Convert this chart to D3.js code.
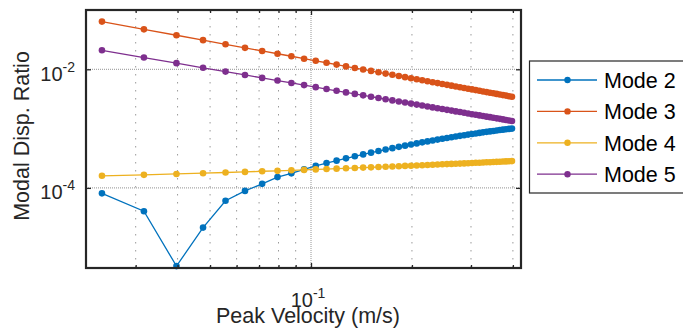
<!DOCTYPE html>
<html><head><meta charset="utf-8">
<script src="https://cdn.jsdelivr.net/npm/d3@7"></script>
<style>
html,body{margin:0;padding:0;background:#fff;}
svg{display:block;font-family:"Liberation Sans",Arial,Helvetica,sans-serif;}
</style></head>
<body>
<svg id="chart" width="683" height="329"></svg>
<script>
const peakVelocity = [0.0238, 0.03175, 0.0397, 0.04765, 0.0556, 0.06355, 0.0715, 0.07945, 0.0874, 0.09535, 0.1033, 0.11125, 0.1192, 0.12715, 0.1351, 0.14305, 0.151, 0.15895, 0.1669, 0.17485, 0.1828, 0.19075, 0.1987, 0.20665, 0.2146, 0.22255, 0.2305, 0.23845, 0.2464, 0.25435, 0.2623, 0.27025, 0.2782, 0.28615, 0.2941, 0.30205, 0.31, 0.31795, 0.3259, 0.33385, 0.3418, 0.34975, 0.3577, 0.36565, 0.3736, 0.38155, 0.3895, 0.39745];
const mode2 = [8.1e-5, 4.04e-5, 4.8e-6, 2.14e-5, 6.08e-5, 8.9e-5, 1.17e-4, 1.52e-4, 1.76e-4, 2.06e-4, 2.35e-4, 2.62e-4, 2.88e-4, 3.15e-4, 3.41e-4, 3.67e-4, 3.93e-4, 4.18e-4, 4.43e-4, 4.68e-4, 4.92e-4, 5.16e-4, 5.40e-4, 5.63e-4, 5.86e-4, 6.09e-4, 6.31e-4, 6.52e-4, 6.74e-4, 6.94e-4, 7.15e-4, 7.35e-4, 7.54e-4, 7.74e-4, 7.92e-4, 8.11e-4, 8.29e-4, 8.47e-4, 8.64e-4, 8.81e-4, 8.97e-4, 9.13e-4, 9.29e-4, 9.45e-4, 9.60e-4, 9.75e-4, 9.89e-4, 1.00e-3];
const mode3 = [0.0637, 0.0472, 0.0375, 0.0310, 0.0264, 0.0230, 0.0204, 0.0183, 0.0166, 0.0151, 0.0139, 0.0129, 0.0120, 0.0112, 0.0105, 0.00993, 0.00939, 0.00891, 0.00847, 0.00807, 0.00770, 0.00737, 0.00707, 0.00679, 0.00653, 0.00629, 0.00606, 0.00585, 0.00566, 0.00547, 0.00530, 0.00514, 0.00499, 0.00484, 0.00471, 0.00458, 0.00446, 0.00434, 0.00423, 0.00413, 0.00403, 0.00394, 0.00385, 0.00376, 0.00367, 0.00360, 0.00352, 0.00345];
const mode4 = [1.60e-4, 1.66e-4, 1.72e-4, 1.77e-4, 1.82e-4, 1.86e-4, 1.91e-4, 1.94e-4, 1.98e-4, 2.01e-4, 2.05e-4, 2.08e-4, 2.11e-4, 2.14e-4, 2.17e-4, 2.20e-4, 2.22e-4, 2.25e-4, 2.27e-4, 2.30e-4, 2.32e-4, 2.35e-4, 2.37e-4, 2.39e-4, 2.41e-4, 2.43e-4, 2.46e-4, 2.48e-4, 2.50e-4, 2.52e-4, 2.54e-4, 2.55e-4, 2.57e-4, 2.59e-4, 2.61e-4, 2.63e-4, 2.65e-4, 2.66e-4, 2.68e-4, 2.70e-4, 2.71e-4, 2.73e-4, 2.75e-4, 2.76e-4, 2.78e-4, 2.80e-4, 2.81e-4, 2.83e-4];
const mode5 = [0.0209, 0.0158, 0.0127, 0.0106, 0.00915, 0.00803, 0.00716, 0.00646, 0.00589, 0.00541, 0.00500, 0.00465, 0.00434, 0.00408, 0.00385, 0.00364, 0.00345, 0.00328, 0.00313, 0.00299, 0.00286, 0.00275, 0.00264, 0.00254, 0.00245, 0.00236, 0.00228, 0.00221, 0.00214, 0.00207, 0.00201, 0.00195, 0.00190, 0.00185, 0.00180, 0.00175, 0.00171, 0.00167, 0.00163, 0.00159, 0.00156, 0.00152, 0.00149, 0.00146, 0.00143, 0.00140, 0.00137, 0.00134];
const seriesNames = ["Mode 2", "Mode 3", "Mode 4", "Mode 5"];
const seriesColors = ["#0072BD", "#D95319", "#EDB120", "#7E2F8E"];
const xMajorTicks = [0.1];
const xTickBase = ["10"];
const xTickExp = ["-1"];
const xMinorTicks = [0.03, 0.04, 0.05, 0.06, 0.07, 0.08, 0.09, 0.2, 0.3, 0.4];
const yMajorTicks = [1e-4, 1e-2];
const yTickBase = ["10", "10"];
const yTickExp = ["-4", "-2"];
const xDomain = [0.02133, 0.4229];
const yDomain = [4.46e-6, 0.1];
const xLabel = "Peak Velocity (m/s)";
const yLabel = "Modal Disp. Ratio";

const seriesValues = [mode2, mode3, mode4, mode5];
const L = 86, R = 521, T = 10, B = 268;
const svg = d3.select("#chart");
const x = d3.scaleLog().domain(xDomain).range([L, R]);
const y = d3.scaleLog().domain(yDomain).range([B, T]);
const axisColor = "#262626";

// grid
const grid = svg.append("g");
grid.selectAll("line.xminor").data(xMinorTicks).enter().append("line")
  .attr("x1", d => x(d)).attr("x2", d => x(d)).attr("y1", T).attr("y2", B)
  .attr("stroke", "#9a9a9a").attr("stroke-width", 1).attr("stroke-dasharray", "1.5,6.5");
grid.selectAll("line.xmajor").data(xMajorTicks).enter().append("line")
  .attr("x1", d => x(d)).attr("x2", d => x(d)).attr("y1", T).attr("y2", B)
  .attr("stroke", "#a8a8a8").attr("stroke-width", 1.2).attr("stroke-dasharray", "1,1");
grid.selectAll("line.ymajor").data(yMajorTicks).enter().append("line")
  .attr("x1", L).attr("x2", R).attr("y1", d => y(d)).attr("y2", d => y(d))
  .attr("stroke", "#a8a8a8").attr("stroke-width", 1.2).attr("stroke-dasharray", "1,1");

// series
const line = d3.line().x(d => x(d[0])).y(d => y(d[1]));
seriesValues.forEach((vals, i) => {
  const pts = peakVelocity.map((v, j) => [v, vals[j]]);
  const g = svg.append("g");
  g.append("path").attr("d", line(pts)).attr("fill", "none")
    .attr("stroke", seriesColors[i]).attr("stroke-width", 1.3);
  g.selectAll("circle").data(pts).enter().append("circle")
    .attr("cx", d => x(d[0])).attr("cy", d => y(d[1])).attr("r", 3.3)
    .attr("fill", seriesColors[i]);
});

// axes (ticks pointing inward)
const tickStyle = sel => { sel.select(".domain").remove(); sel.selectAll("line").attr("stroke", axisColor).attr("stroke-width", 1.3); sel.selectAll("text").remove(); };
svg.append("g").attr("transform", `translate(0,${B})`)
  .call(d3.axisBottom(x).tickValues(xMajorTicks).tickSize(-5).tickFormat("")).call(tickStyle);
svg.append("g").attr("transform", `translate(0,${B})`)
  .call(d3.axisBottom(x).tickValues(xMinorTicks).tickSize(-3).tickFormat("")).call(tickStyle);
svg.append("g").attr("transform", `translate(0,${T})`)
  .call(d3.axisTop(x).tickValues(xMajorTicks).tickSize(-5).tickFormat("")).call(tickStyle);
svg.append("g").attr("transform", `translate(0,${T})`)
  .call(d3.axisTop(x).tickValues(xMinorTicks).tickSize(-3).tickFormat("")).call(tickStyle);
svg.append("g").attr("transform", `translate(${L},0)`)
  .call(d3.axisLeft(y).tickValues(yMajorTicks).tickSize(-5).tickFormat("")).call(tickStyle);
svg.append("g").attr("transform", `translate(${R},0)`)
  .call(d3.axisRight(y).tickValues(yMajorTicks).tickSize(-5).tickFormat("")).call(tickStyle);

// box
svg.append("rect").attr("x", L).attr("y", T).attr("width", R - L).attr("height", B - T)
  .attr("fill", "none").attr("stroke", axisColor).attr("stroke-width", 2.2);

// tick labels
xMajorTicks.forEach((t, i) => {
  const tx = svg.append("text").attr("x", x(t) - 3).attr("y", 307).attr("text-anchor", "middle")
    .attr("fill", axisColor).attr("font-size", 20);
  tx.append("tspan").text(xTickBase[i]);
  tx.append("tspan").attr("dy", -9).attr("font-size", 14).text(xTickExp[i]);
});
yMajorTicks.forEach((t, i) => {
  const tx = svg.append("text").attr("x", 75).attr("y", y(t) + 11.5).attr("text-anchor", "end")
    .attr("fill", axisColor).attr("font-size", 20);
  tx.append("tspan").text(yTickBase[i]);
  tx.append("tspan").attr("dy", -9).attr("font-size", 14).text(yTickExp[i]);
});

// axis labels
svg.append("text").attr("x", 308).attr("y", 323).attr("text-anchor", "middle")
  .attr("fill", axisColor).attr("font-size", 21.5).text(xLabel);
svg.append("text").attr("transform", "translate(29,136) rotate(-90)").attr("text-anchor", "middle")
  .attr("fill", axisColor).attr("font-size", 21.5).text(yLabel);

// legend
const lg = svg.append("g");
lg.append("rect").attr("x", 529.5).attr("y", 61).attr("width", 160).attr("height", 132)
  .attr("fill", "#fff").attr("stroke", axisColor).attr("stroke-width", 1.2);
seriesNames.forEach((name, i) => {
  const cy = 80 + i * 31.4;
  lg.append("line").attr("x1", 537).attr("x2", 597).attr("y1", cy).attr("y2", cy)
    .attr("stroke", seriesColors[i]).attr("stroke-width", 1.3);
  lg.append("circle").attr("cx", 567.5).attr("cy", cy).attr("r", 3.2).attr("fill", seriesColors[i]);
  lg.append("text").attr("x", 604).attr("y", cy + 8).attr("font-size", 21.5).attr("fill", "#000").text(name);
});
</script>
</body></html>
